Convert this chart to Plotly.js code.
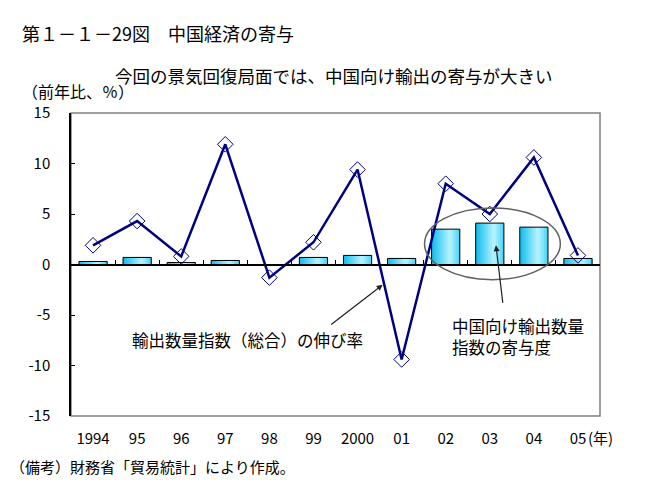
<!DOCTYPE html>
<html>
<head>
<meta charset="utf-8">
<script src="https://cdn.plot.ly/plotly-3.0.1.min.js"></script>
<style>
  body { margin: 0; background: #fff; }
  #chart { width: 662px; height: 500px; }
</style>
</head>
<body>
<div id="chart"></div>
<script>
// データ
const YEARS = ["1994", "95", "96", "97", "98", "99", "2000", "01", "02", "03", "04", "05"];
const EXPORT_GROWTH = [1.9, 4.3, 0.8, 11.9, -1.3, 2.2, 9.4, -9.4, 8.0, 5.0, 10.6, 0.9];
const CHINA_CONTRIB = [0.3, 0.7, 0.2, 0.4, 0.0, 0.7, 0.9, 0.6, 3.5, 4.1, 3.7, 0.6];
const Y_TICKS = [-15, -10, -5, 0, 5, 10, 15];
const Y_TICK_LABELS = ["-15", "-10", "-5", "0", "5", "10", "15"];

const FONT = "Noto Sans CJK JP";

// 棒のグラデーション（左が濃く、中央右寄りが明るい）
function mix(a, b, t) {
  const pa = [parseInt(a.slice(1, 3), 16), parseInt(a.slice(3, 5), 16), parseInt(a.slice(5, 7), 16)];
  const pb = [parseInt(b.slice(1, 3), 16), parseInt(b.slice(3, 5), 16), parseInt(b.slice(5, 7), 16)];
  return "rgb(" + pa.map((v, i) => Math.round(v + (pb[i] - v) * t)).join(",") + ")";
}

const BAR_W = 0.64;
const SLICES = 14;
const traces = [];
for (let k = 0; k < SLICES; k++) {
  const t = (k + 0.5) / SLICES;
  const col = t < 0.65 ? mix("#0cbcef", "#b8f4ff", t / 0.65) : mix("#b8f4ff", "#48d2f6", (t - 0.65) / 0.35);
  const start = k * BAR_W / SLICES;
  // 各帯は右端まで伸ばして重ね、継ぎ目を消す
  traces.push({
    type: "bar",
    x: YEARS,
    y: CHINA_CONTRIB,
    width: BAR_W - start,
    offset: -BAR_W / 2 + start,
    marker: { color: col, line: { width: 0 } },
    hoverinfo: "skip"
  });
}
// 枠線
traces.push({
  type: "bar",
  x: YEARS,
  y: CHINA_CONTRIB,
  width: BAR_W,
  offset: -BAR_W / 2,
  marker: { color: "rgba(0,0,0,0)", line: { color: "#000", width: 1 } }
});
// 折れ線
traces.push({
  type: "scatter",
  mode: "lines+markers",
  x: YEARS,
  y: EXPORT_GROWTH,
  xaxis: "x2",
  line: { color: "#000080", width: 2.5 },
  marker: { symbol: "diamond-open", size: 12, color: "#000080", line: { width: 1, color: "#000080" } }
});

const layout = {
  width: 662,
  height: 500,
  margin: { l: 71, r: 62, t: 113, b: 84 },
  paper_bgcolor: "#fff",
  plot_bgcolor: "#fff",
  showlegend: false,
  barmode: "overlay",
  font: { family: FONT, size: 15, color: "#000" },
  xaxis: {
    type: "category",
    categoryarray: YEARS,
    range: [-0.5, 11.5],
    showgrid: false,
    showline: false,
    ticks: "",
    ticklabelstandoff: 12,
    tickfont: { size: 15 }
  },
  xaxis2: {
    type: "category",
    categoryarray: YEARS,
    range: [-0.5, 11.5],
    overlaying: "x",
    anchor: "free",
    position: 0.5,
    side: "bottom",
    showgrid: false,
    showline: true,
    linecolor: "#000",
    linewidth: 1.5,
    ticks: "inside",
    ticklen: 4,
    tickcolor: "#000",
    tickson: "boundaries",
    showticklabels: false
  },
  yaxis: {
    range: [-15, 15],
    tickvals: Y_TICKS,
    ticktext: Y_TICK_LABELS,
    showgrid: false,
    zeroline: false,
    showline: true,
    linecolor: "#000",
    linewidth: 1.5,
    ticks: "inside",
    ticklen: 4,
    tickcolor: "#000",
    ticklabelstandoff: 16,
    tickfont: { size: 15 }
  },
  shapes: [
    { type: "rect", xref: "paper", yref: "paper", x0: 0, x1: 1, y0: 0, y1: 1,
      line: { color: "#808080", width: 1.5 }, layer: "below" },
    { type: "circle", xref: "x", yref: "y", x0: 7.52, x1: 10.6, y0: -1.5, y1: 5.6,
      line: { color: "#606060", width: 1.5 } }
  ],
  annotations: [
    { xref: "paper", yref: "paper", x: -0.0964, y: 1.264, xanchor: "left", yanchor: "middle",
      text: "第１－１－29図　中国経済の寄与", showarrow: false, font: { size: 18 } },
    { xref: "paper", yref: "paper", x: 0.498, y: 1.125, xanchor: "center", yanchor: "middle",
      text: "今回の景気回復局面では、中国向け輸出の寄与が大きい", showarrow: false, font: { size: 17.5 } },
    { xref: "paper", yref: "paper", x: -0.0964, y: 1.072, xanchor: "left", yanchor: "middle",
      text: "（前年比、％）", showarrow: false, font: { size: 16 } },
    { xref: "paper", yref: "paper", x: -0.119, y: -0.168, xanchor: "left", yanchor: "middle",
      text: "（備考）財務省「貿易統計」により作成。", showarrow: false, font: { size: 15 } },
    { xref: "paper", yref: "paper", x: 0.9735, y: -0.0726, xanchor: "left", yanchor: "middle",
      text: "(年)", showarrow: false, font: { size: 15 } },
    { xref: "x", yref: "y", x: 3.51, y: -7.45, xanchor: "center", yanchor: "middle",
      text: "輸出数量指数（総合）の伸び率", showarrow: false, font: { size: 16.5 } },
    { xref: "x", yref: "y", x: 8.09, y: -7.1, xanchor: "left", yanchor: "middle", align: "left",
      text: "中国向け輸出数量<br>指数の寄与度", showarrow: false, font: { size: 16.5 } },
    { xref: "x", yref: "y", x: 6.57, y: -2.0, ax: -53, ay: 41, text: "", font: { size: 1 },
      showarrow: true, arrowhead: 2, arrowsize: 1, arrowwidth: 1.2, arrowcolor: "#202020" },
    { xref: "x", yref: "y", x: 9.14, y: 1.9, ax: 7, ay: 59, text: "", font: { size: 1 },
      showarrow: true, arrowhead: 2, arrowsize: 1, arrowwidth: 1.2, arrowcolor: "#202020" }
  ]
};

Plotly.newPlot("chart", traces, layout, { displayModeBar: false });
</script>
</body>
</html>
